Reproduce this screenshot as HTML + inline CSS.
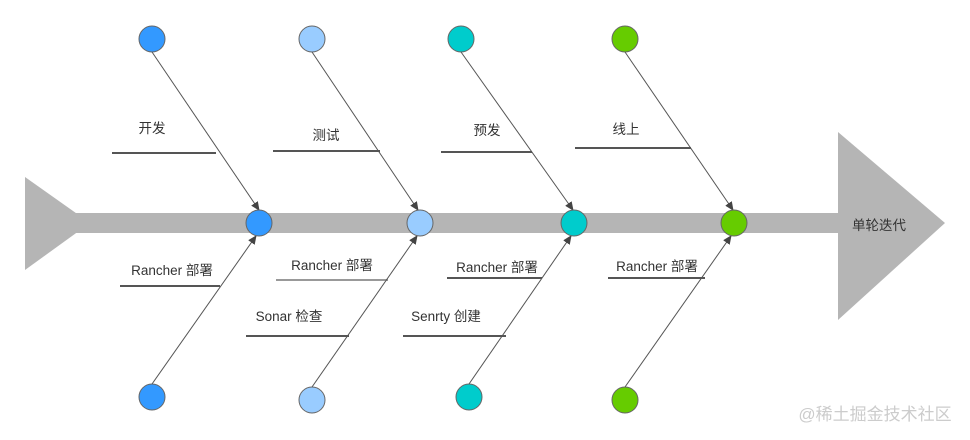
<!DOCTYPE html>
<html><head><meta charset="utf-8"><style>body{margin:0;background:#fff}svg{display:block}text{font-family:"Liberation Sans","Noto Sans CJK SC",sans-serif;font-size:13.5px;fill:#333;text-anchor:middle}</style></head><body>
<svg width="970" height="440" viewBox="0 0 970 440">
<defs><marker id="a" markerWidth="10" markerHeight="10" refX="8" refY="4" orient="auto" markerUnits="userSpaceOnUse"><path d="M0,0 L9,4 L0,8 Z" fill="#444"/></marker></defs>
<polygon points="25,177 90,223 25,270" fill="#b5b5b5"/>
<rect x="25" y="213" width="815" height="20" fill="#b5b5b5"/>
<polygon points="838,132 945,223 838,320" fill="#b5b5b5"/>
<g stroke="#555" stroke-width="2">
<line x1="112" y1="153" x2="216" y2="153"/><line x1="273" y1="151" x2="380" y2="151"/>
<line x1="441" y1="152" x2="532" y2="152"/><line x1="575" y1="148" x2="691" y2="148"/>
<line x1="120" y1="286" x2="220" y2="286"/><line x1="276" y1="280" x2="388" y2="280" stroke="#999"/>
<line x1="447" y1="278" x2="542" y2="278"/><line x1="608" y1="278" x2="705" y2="278"/>
<line x1="246" y1="336" x2="349" y2="336"/><line x1="403" y1="336" x2="506" y2="336"/>
</g>
<g stroke="#555" stroke-width="1" marker-end="url(#a)">
<line x1="152" y1="52" x2="259" y2="210"/><line x1="312" y1="52" x2="418" y2="210"/>
<line x1="461" y1="52" x2="573" y2="210"/><line x1="625" y1="52" x2="733" y2="210"/>
<line x1="152" y1="384" x2="256" y2="236"/><line x1="312" y1="387" x2="417" y2="236"/>
<line x1="469" y1="384" x2="571" y2="236"/><line x1="625" y1="387" x2="731" y2="236"/>
</g>
<g stroke="#666" stroke-width="1">
<circle cx="152" cy="39" r="13" fill="#3399ff"/><circle cx="312" cy="39" r="13" fill="#99ccff"/>
<circle cx="461" cy="39" r="13" fill="#00cccc"/><circle cx="625" cy="39" r="13" fill="#66cc00"/>
<circle cx="259" cy="223" r="13" fill="#3399ff"/><circle cx="420" cy="223" r="13" fill="#99ccff"/>
<circle cx="574" cy="223" r="13" fill="#00cccc"/><circle cx="734" cy="223" r="13" fill="#66cc00"/>
<circle cx="152" cy="397" r="13" fill="#3399ff"/><circle cx="312" cy="400" r="13" fill="#99ccff"/>
<circle cx="469" cy="397" r="13" fill="#00cccc"/><circle cx="625" cy="400" r="13" fill="#66cc00"/>
</g>
<text x="152" y="133">开发</text><text x="326" y="140">测试</text><text x="487" y="135">预发</text><text x="626" y="134">线上</text>
<text x="172" y="275">Rancher 部署</text><text x="332" y="270">Rancher 部署</text><text x="497" y="272">Rancher 部署</text><text x="657" y="271">Rancher 部署</text>
<text x="289" y="321">Sonar 检查</text><text x="446" y="321">Senrty 创建</text>
<text x="879" y="230">单轮迭代</text>
<text x="875" y="420" style="font-size:17px;fill:#ccc">@稀土掘金技术社区</text>
</svg></body></html>
